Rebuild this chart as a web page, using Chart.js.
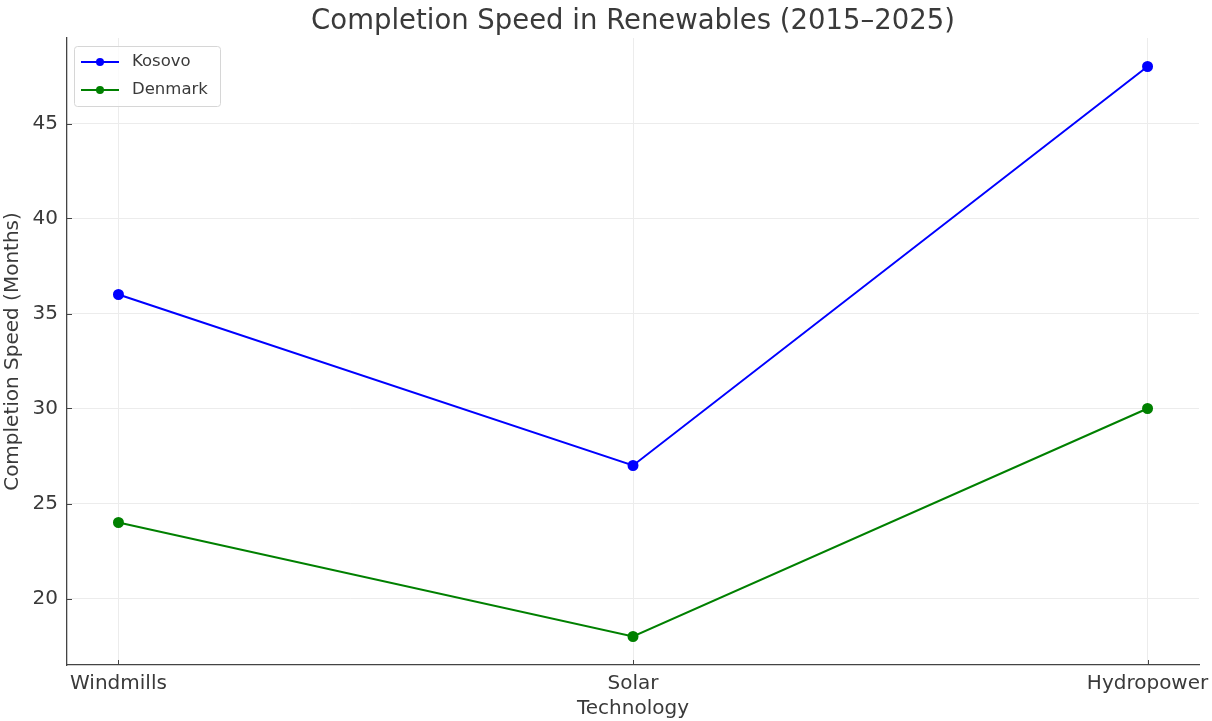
<!DOCTYPE html>
<html>
<head>
<meta charset="utf-8">
<script src="https://cdn.jsdelivr.net/npm/chart.js@4.4.1/dist/chart.umd.min.js"></script>
<style>
  html, body { margin: 0; padding: 0; background: #fff; }
  #wrap { width: 1212px; height: 721px; }
</style>
</head>
<body>
<div id="wrap"><canvas id="lineChart" width="1212" height="721"></canvas></div>
<script>
const technologies = ["Windmills", "Solar", "Hydropower"];
const kosovoMonths = [36, 27, 48];
const denmarkMonths = [24, 18, 30];
const yTicks = [20, 25, 30, 35, 40, 45];
const chartTitle = "Completion Speed in Renewables (2015–2025)";

const FONT = "'DejaVu Sans', sans-serif";
const TEXT = "#3a3a3a";
const SPINE = "#444";

const toPoints = (vals) => vals.map((v, i) => ({ x: i, y: v }));

// title centred over the plot area, like matplotlib does it
const plotTitle = {
    id: "plotTitle",
    afterDraw(chart) {
        const { ctx, chartArea } = chart;
        ctx.save();
        ctx.fillStyle = TEXT;
        ctx.font = "27.5px " + FONT;
        ctx.textAlign = "center";
        ctx.textBaseline = "middle";
        ctx.fillText(chartTitle, (chartArea.left + chartArea.right) / 2, 22);
        ctx.restore();
    }
};

// matplotlib-style legend drawn inside the plot, top-left
const boxLegend = {
    id: "boxLegend",
    afterDraw(chart) {
        const { ctx, chartArea } = chart;
        const x0 = chartArea.left + 7, y0 = chartArea.top + 8;
        const w = 146, h = 60;
        ctx.save();
        ctx.fillStyle = "rgba(255,255,255,0.8)";
        ctx.strokeStyle = "#d6d6d6";
        ctx.lineWidth = 1;
        ctx.beginPath();
        ctx.roundRect(x0 + 0.5, y0 + 0.5, w, h, 3);
        ctx.fill();
        ctx.stroke();
        chart.data.datasets.forEach((ds, i) => {
            const y = y0 + 16 + i * 28;
            ctx.strokeStyle = ds.borderColor;
            ctx.lineWidth = 2;
            ctx.beginPath();
            ctx.moveTo(x0 + 7, y);
            ctx.lineTo(x0 + 45, y);
            ctx.stroke();
            ctx.fillStyle = ds.borderColor;
            ctx.beginPath();
            ctx.arc(x0 + 26, y, 4, 0, Math.PI * 2);
            ctx.fill();
            ctx.fillStyle = TEXT;
            ctx.font = "16.5px " + FONT;
            ctx.textBaseline = "middle";
            ctx.fillText(ds.label, x0 + 58, y);
        });
        ctx.restore();
    }
};

// inward tick marks on the left and bottom spines
const inwardTicks = {
    id: "inwardTicks",
    afterDatasetsDraw(chart) {
        const { ctx, chartArea, scales } = chart;
        ctx.save();
        ctx.strokeStyle = SPINE;
        ctx.lineWidth = 1;
        scales.x.ticks.forEach((t) => {
            const px = Math.round(scales.x.getPixelForValue(t.value)) + 0.5;
            ctx.beginPath();
            ctx.moveTo(px, chartArea.bottom);
            ctx.lineTo(px, chartArea.bottom - 5);
            ctx.stroke();
        });
        scales.y.ticks.forEach((t) => {
            const py = Math.round(scales.y.getPixelForValue(t.value)) + 0.5;
            ctx.beginPath();
            ctx.moveTo(chartArea.left, py);
            ctx.lineTo(chartArea.left + 5, py);
            ctx.stroke();
        });
        ctx.restore();
    }
};

new Chart(document.getElementById("lineChart"), {
    type: "line",
    data: {
        datasets: [
            {
                label: "Kosovo",
                data: toPoints(kosovoMonths),
                borderColor: "#0000ff",
                backgroundColor: "#0000ff",
                borderWidth: 2,
                pointRadius: 4.5,
                pointHoverRadius: 4.5,
                tension: 0,
            },
            {
                label: "Denmark",
                data: toPoints(denmarkMonths),
                borderColor: "#008000",
                backgroundColor: "#008000",
                borderWidth: 2,
                pointRadius: 4.5,
                pointHoverRadius: 4.5,
                tension: 0,
            },
        ],
    },
    options: {
        responsive: false,
        animation: false,
        layout: { padding: { left: 0, right: 13, top: 38, bottom: 0 } },
        plugins: {
            legend: { display: false },
            tooltip: { enabled: false },
            title: { display: false },
        },
        scales: {
            x: {
                type: "linear",
                min: -0.1,
                max: 2.1,
                afterBuildTicks: (s) => { s.ticks = technologies.map((_, i) => ({ value: i })); },
                afterFit: (s) => { s.height = 56; s.paddingLeft = 0; s.paddingRight = 0; },
                ticks: {
                    color: TEXT,
                    font: { family: FONT, size: 20 },
                    padding: 7,
                    maxRotation: 0,
                    callback: (v) => technologies[v],
                },
                grid: { color: "#ececec", drawTicks: false },
                border: { color: SPINE, width: 1.3 },
                title: {
                    display: true,
                    text: "Technology",
                    color: TEXT,
                    font: { family: FONT, size: 20 },
                    padding: { top: 0, bottom: 0 },
                },
            },
            y: {
                type: "linear",
                min: 16.5,
                max: 49.5,
                afterBuildTicks: (s) => { s.ticks = yTicks.map((v) => ({ value: v })); },
                afterFit: (s) => { s.width = 67; s.paddingTop = 0; s.paddingBottom = 0; },
                ticks: {
                    color: TEXT,
                    font: { family: FONT, size: 20 },
                    padding: 9,
                },
                grid: { color: "#ececec", drawTicks: false },
                border: { color: SPINE, width: 1.3 },
                title: {
                    display: true,
                    text: "Completion Speed (Months)",
                    color: TEXT,
                    font: { family: FONT, size: 20 },
                    padding: { top: 1, bottom: 0 },
                },
            },
        },
    },
    plugins: [plotTitle, boxLegend, inwardTicks],
});
</script>
</body>
</html>
